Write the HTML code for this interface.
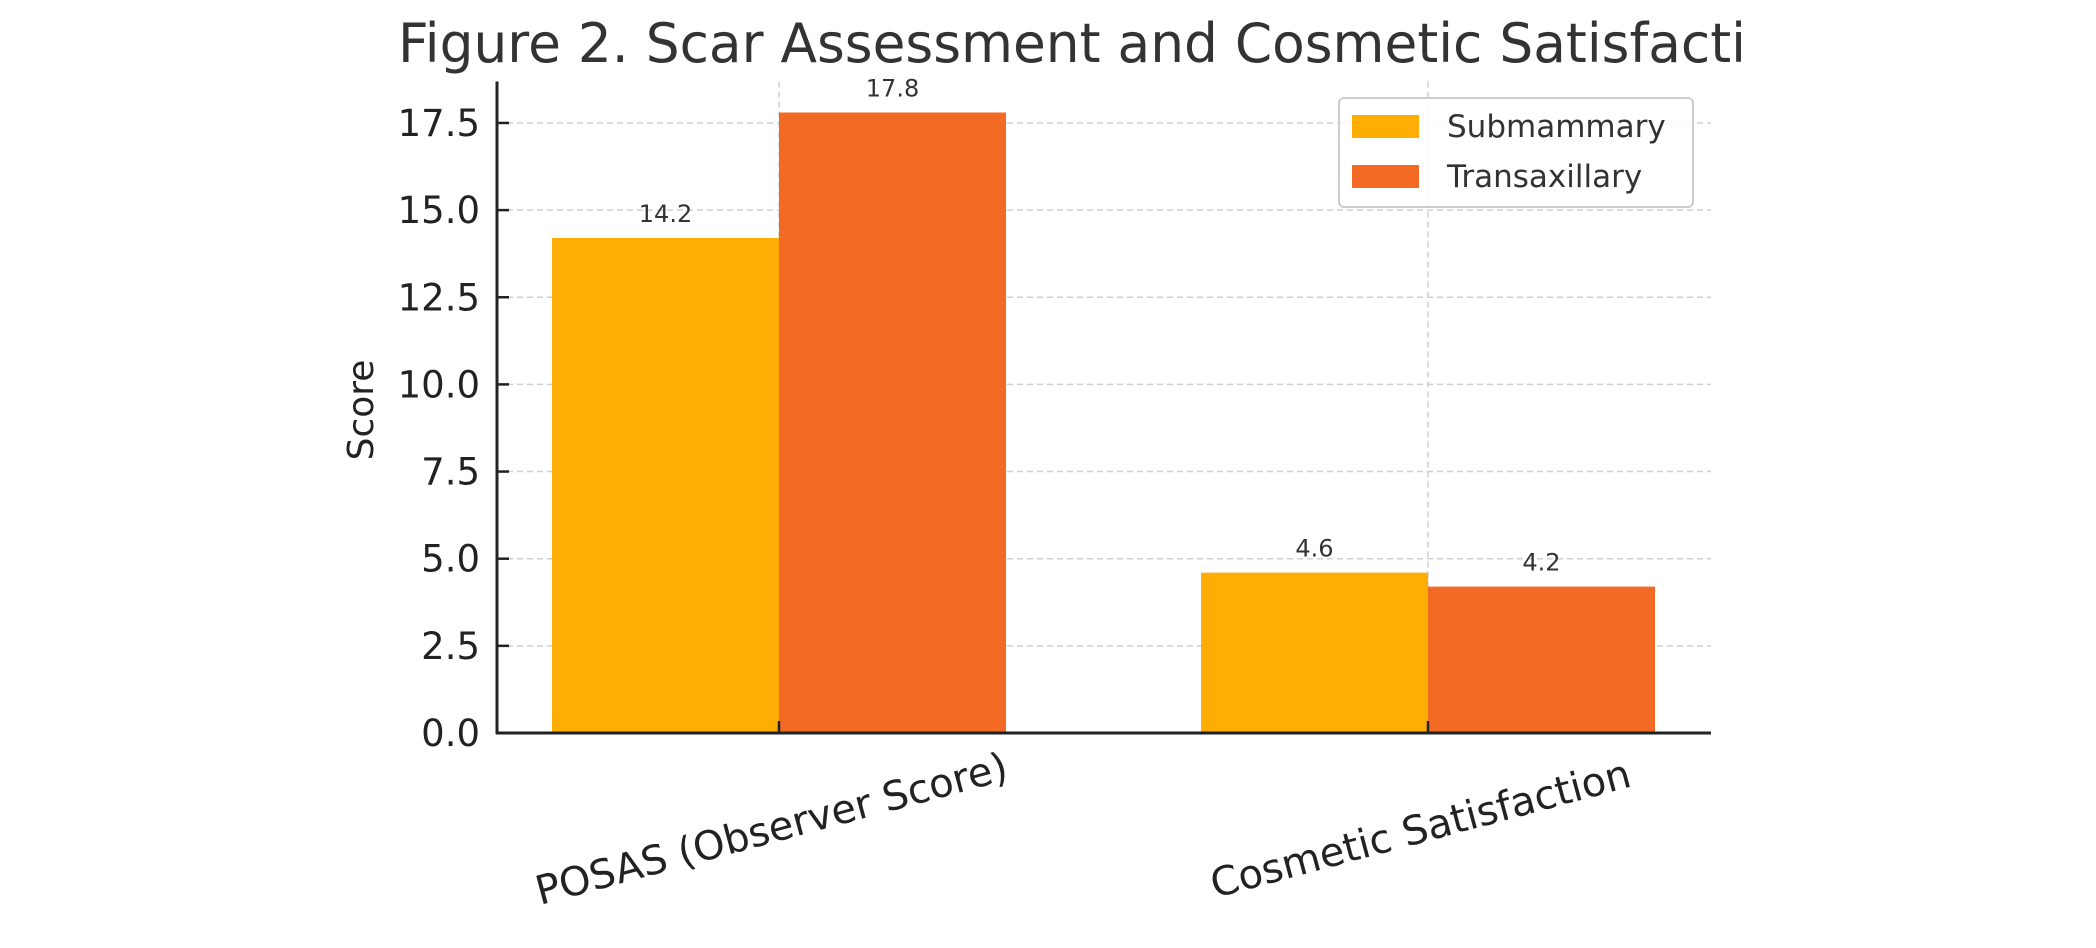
<!DOCTYPE html>
<html><head><meta charset="utf-8"><style>
html,body{margin:0;padding:0;background:#fff;}
svg{display:block;font-family:"DejaVu Sans","Liberation Sans",sans-serif;}
</style></head><body>
<svg id="chart" width="2096" height="948" viewBox="0 0 2096 948" xmlns="http://www.w3.org/2000/svg">
<rect width="2096" height="948" fill="#fff"/>
<text x="398" y="62" font-size="54" fill="#333" textLength="1348" lengthAdjust="spacingAndGlyphs">Figure 2. Scar Assessment and Cosmetic Satisfacti</text>
<g id="grid"></g>
<g id="bars"></g>
<g id="axes"></g>
<text transform="translate(373,410) rotate(-90)" text-anchor="middle" font-size="36" fill="#222">Score</text>
<g>
<rect x="1339" y="98" width="354" height="109" rx="5" fill="#fff" fill-opacity="0.85" stroke="#ccc" stroke-width="2"/>
<rect x="1352" y="115" width="67" height="23" fill="#FDAD03"/>
<text x="1447" y="137" font-size="31" fill="#333">Submammary</text>
<rect x="1352" y="165" width="67" height="23" fill="#F26A24"/>
<text x="1447" y="187" font-size="31" fill="#333">Transaxillary</text>
</g>
</svg>
<script>
const categories = ["POSAS (Observer Score)", "Cosmetic Satisfaction"];
const submammary = [14.2, 4.6];
const transaxillary = [17.8, 4.2];
const yTicks = [0, 2.5, 5, 7.5, 10, 12.5, 15, 17.5];

const NS = "http://www.w3.org/2000/svg";
const plotL = 497, plotR = 1711, y0 = 733, pxPerUnit = 34.86, yMax = 18.69;
const xCenter0 = 779, groupStep = 649, barW = 227;
function yScale(v){ return y0 - v * pxPerUnit; }
function xScale(i){ return xCenter0 + i * groupStep; }
function mk(tag, attrs, parent){ const e = document.createElementNS(NS, tag); for (const k in attrs) e.setAttribute(k, attrs[k]); parent.appendChild(e); return e; }

const grid = document.getElementById('grid');
const bars = document.getElementById('bars');
const axes = document.getElementById('axes');

yTicks.forEach(t => {
  const y = yScale(t);
  if (t > 0) {
    const g = mk('line', {x1: plotL, x2: plotR, y1: y, y2: y, stroke: '#d0d0d0', 'stroke-width': 1.5, 'stroke-dasharray': '6,4'}, grid);
    
    
  }
  const tk = mk('line', {x1: plotL, x2: plotL + 12, y1: y, y2: y, stroke: '#222', 'stroke-width': 2.5}, axes);
  
  
  const lb = mk('text', {x: 480, y: y + 13, 'text-anchor': 'end', 'font-size': 37, fill: '#222'}, axes);
  lb.textContent = t.toFixed(1);
  
  
});

categories.forEach((c, i) => {
  const cx = xScale(i);
  const vg = mk('line', {x1: cx, x2: cx, y1: yScale(yMax), y2: y0, stroke: '#d0d0d0', 'stroke-width': 1.5, 'stroke-dasharray': '6,4'}, grid);
  
  

  [[submammary[i], '#FDAD03', cx - barW, 'submammary'], [transaxillary[i], '#F26A24', cx, 'transaxillary']].forEach(([v, col, x, nm]) => {
    const r = mk('rect', {x: x, y: yScale(v), width: barW, height: y0 - yScale(v), fill: col}, bars);
    
    
    const t = mk('text', {x: x + barW / 2, y: yScale(v) - 16, 'text-anchor': 'middle', 'font-size': 24, fill: '#333'}, bars);
    t.textContent = v.toFixed(1);
    
    
  });

  const xt = mk('line', {x1: cx, x2: cx, y1: y0, y2: y0 - 12, stroke: '#222', 'stroke-width': 2.5}, axes);
  
  
  const xl = mk('text', {transform: 'translate(' + (cx - 4) + ',842) rotate(-15)', 'text-anchor': 'middle', 'font-size': 40, fill: '#222'}, axes);
  xl.textContent = c;
  
  
});

const ya = mk('line', {x1: plotL, x2: plotL, y1: yScale(yMax), y2: y0 + 1, stroke: '#222', 'stroke-width': 3}, axes);


const xa = mk('line', {x1: plotL - 1, x2: plotR, y1: y0, y2: y0, stroke: '#222', 'stroke-width': 3}, axes);


</script>
</body></html>
